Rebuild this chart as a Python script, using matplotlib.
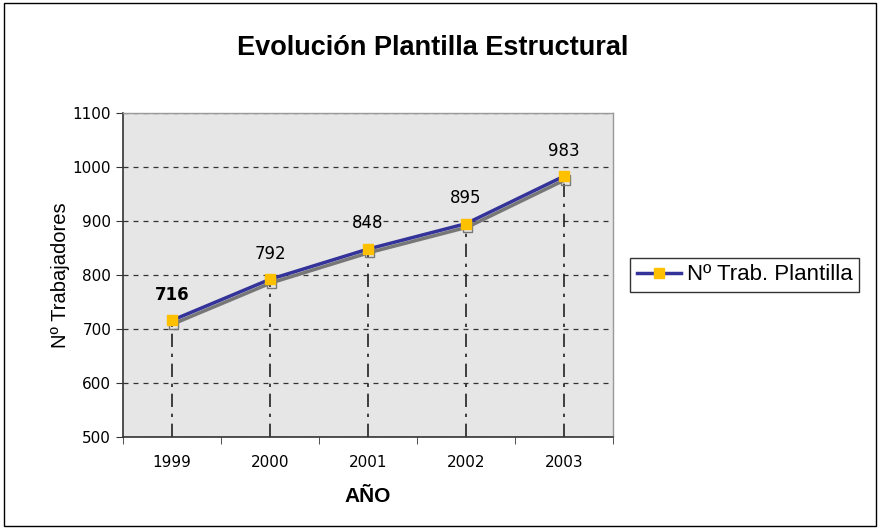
import matplotlib
matplotlib.use('Agg')
import matplotlib.pyplot as plt
import matplotlib.patheffects as pe
from matplotlib.ticker import FixedLocator, MultipleLocator

years = ['1999', '2000', '2001', '2002', '2003']
plantilla = [716, 792, 848, 895, 983]
series_name = 'Nº Trab. Plantilla'

fig = plt.figure(figsize=(8.8, 5.29), dpi=100)
fig.patch.set_facecolor('white')
fig.add_artist(plt.Rectangle((0.004, 0.006), 0.991, 0.988, transform=fig.transFigure,
                             fill=False, edgecolor='black', linewidth=1.0))

ax = fig.add_axes([123/880, 1 - 437/529, 490/880, 324/529])
ax.set_facecolor('#e6e6e6')
x = list(range(len(years)))

ax.set_xlim(-0.5, len(years) - 0.5)
ax.set_ylim(500, 1100)
ax.yaxis.set_major_locator(MultipleLocator(100))
ax.yaxis.grid(True, linestyle=(0, (4, 4)), color='#333333', linewidth=0.9)
ax.set_axisbelow(True)

# drop lines
for xi, v in zip(x, plantilla):
  ax.plot([xi, xi], [500, v], color='#222222', linewidth=1.2,
          linestyle=(0, (8, 4, 2, 4)), zorder=2)

ax.plot(x, plantilla, color='#333399', linewidth=2.5, zorder=4,
        path_effects=[pe.SimpleLineShadow(offset=(1, -2.5), shadow_color='#777777', alpha=1.0),
                      pe.Normal()],
        marker='s', markersize=7, markerfacecolor='#ffc000', markeredgecolor='#ffc000',
        label=series_name)

for i, v in enumerate(plantilla):
  ax.annotate(str(v), (x[i], v), xytext=(0, 12), textcoords='offset points',
              ha='center', va='bottom', fontsize=12,
              fontweight='bold' if i == 0 else 'normal', color='black')

ax.set_xticks(x)
ax.set_xticklabels(years)
ax.xaxis.set_minor_locator(FixedLocator([i - 0.5 for i in range(len(years) + 1)]))
ax.tick_params(axis='x', which='major', length=0, pad=13, labelsize=11)
ax.tick_params(axis='x', which='minor', length=5, direction='out', color='#333333')
ax.tick_params(axis='y', length=5, direction='out', labelsize=11, color='#333333')

for s in ['left', 'bottom']:
  ax.spines[s].set_color('#333333')
  ax.spines[s].set_linewidth(1.2)
for s in ['top', 'right']:
  ax.spines[s].set_color('#999999')
  ax.spines[s].set_linewidth(1.0)

ax.set_ylabel('Nº Trabajadores', fontsize=14.5, family='Liberation Sans', labelpad=2)
ax.set_xlabel('AÑO', fontsize=15, fontweight='bold', family='Liberation Sans', labelpad=12)

fig.text(433/880, 1 - 48/529, 'Evolución Plantilla Estructural', ha='center', va='center',
         fontsize=19.5, fontweight='bold', family='Liberation Sans')

leg = ax.legend(loc='center left', bbox_to_anchor=(630/880, 1 - 275/529),
                bbox_transform=fig.transFigure, frameon=True, fancybox=False,
                borderaxespad=0, prop={'family': 'Liberation Sans', 'size': 16},
                handlelength=2.0, handletextpad=0.25, borderpad=0.3)
leg.get_frame().set_edgecolor('black')
leg.get_frame().set_linewidth(1.0)
leg.legend_handles[0].set_path_effects([])

fig.savefig('out.png', dpi=100)
